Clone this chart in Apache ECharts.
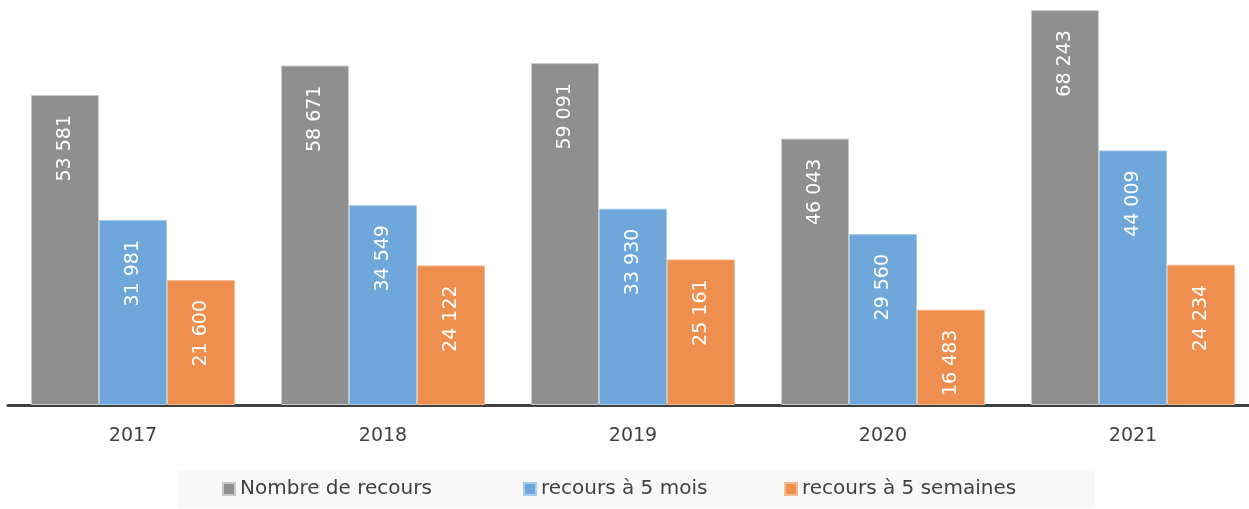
<!DOCTYPE html>
<html>
<head>
<meta charset="utf-8">
<script src="https://cdn.jsdelivr.net/npm/echarts@6/dist/echarts.min.js"></script>
<style>
  html, body { margin: 0; padding: 0; background: #fff; }
  #chart { width: 1249px; height: 509px; }
</style>
</head>
<body>
<div id="chart"></div>
<script>
const years = ['2017', '2018', '2019', '2020', '2021']
const seriesNames = ['Nombre de recours', 'recours à 5 mois', 'recours à 5 semaines']
const nombreRecours = [53581, 58671, 59091, 46043, 68243]
const recours5Mois = [31981, 34549, 33930, 29560, 44009]
const recours5Semaines = [21600, 24122, 25161, 16483, 24234]

const font = '"DejaVu Sans", Verdana, sans-serif'

// 53581 -> "53 581"
const fmt = v => String(v).replace(/\B(?=(\d{3})+(?!\d))/g, ' ')

const barLabel = {
  show: true,
  position: 'insideTop',
  distance: 20,
  rotate: 90,
  align: 'right',
  verticalAlign: 'middle',
  color: '#ffffff',
  fontFamily: font,
  fontSize: 19,
  formatter: p => fmt(p.value)
}

const makeSeries = (name, data, color, border) => ({
  name,
  type: 'bar',
  data,
  barGap: 0,
  barCategoryGap: '18.4%',
  itemStyle: { color, borderColor: border, borderWidth: 1 },
  label: barLabel
})

const legendBase = {
  itemWidth: 12,
  itemHeight: 12,
  icon: 'rect',
  textStyle: { color: '#404040', fontSize: 20, fontFamily: font }
}

const chart = echarts.init(document.getElementById('chart'))
chart.setOption({
  animation: false,
  textStyle: { fontFamily: font },
  grid: { left: 8, right: -9, top: 0, bottom: 104, outerBoundsMode: 'none' },
  xAxis: {
    type: 'category',
    data: years,
    axisLine: { lineStyle: { color: '#404040', width: 3 } },
    axisTick: { show: false },
    axisLabel: { color: '#404040', fontSize: 19, margin: 22, fontFamily: font }
  },
  yAxis: {
    type: 'value',
    min: 0,
    max: 70000,
    show: false,
    splitLine: { show: false }
  },
  // one legend per item so the entries keep the original spacing;
  // the first one carries the grey background box
  legend: [
    {
      ...legendBase,
      left: 178,
      bottom: 1,
      backgroundColor: '#f8f8f8',
      padding: [9, 663, 9, 44],
      data: [seriesNames[0]]
    },
    { ...legendBase, left: 523, bottom: 10, padding: 0, data: [seriesNames[1]] },
    { ...legendBase, left: 784, bottom: 10, padding: 0, data: [seriesNames[2]] }
  ],
  series: [
    makeSeries(seriesNames[0], nombreRecours, '#8f8f8f', '#c9c9c9'),
    makeSeries(seriesNames[1], recours5Mois, '#70a7da', '#a9cbea'),
    makeSeries(seriesNames[2], recours5Semaines, '#ef8f4f', '#f5bb93')
  ]
})
</script>
</body>
</html>
